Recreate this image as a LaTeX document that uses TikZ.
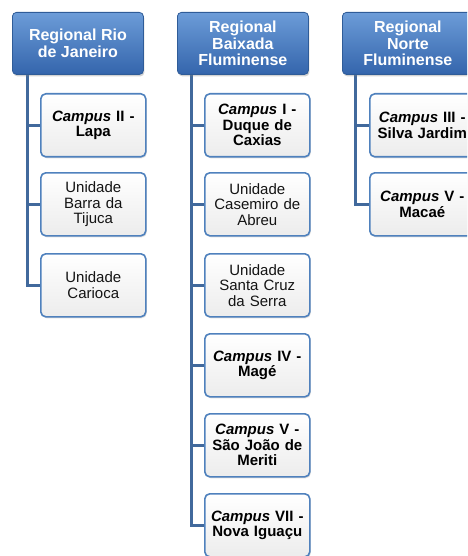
\documentclass[tikz,border=0pt]{standalone}
\usepackage{fontspec}
\setmainfont{Liberation Sans}
\usetikzlibrary{shadows,backgrounds}
\definecolor{hdtop}{HTML}{6C9CD8}
\definecolor{hdbot}{HTML}{3465AC}
\definecolor{hdline}{HTML}{2F5C98}
\definecolor{chline}{HTML}{4F81BD}
\definecolor{connc}{HTML}{41699C}
\definecolor{chbot}{HTML}{ECECEC}
\tikzset{
  hdbox/.style={rectangle, rounded corners=4pt, top color=hdtop, bottom color=hdbot,
    draw=hdline, line width=0.8pt, minimum width=131pt, minimum height=62pt,
    text=white, font=\fontsize{16}{16.5}\selectfont\bfseries, align=center, inner sep=0pt,
    anchor=north west,
    drop shadow={shadow xshift=1pt, shadow yshift=-2pt, opacity=0.35}},
  chbox/.style={rectangle, rounded corners=5pt, top color=white, bottom color=chbot,
    draw=chline, line width=1.6pt, minimum width=105pt, minimum height=63pt,
    text width=102pt, align=center, inner sep=0pt, anchor=north west,
    font=\fontsize{15}{15.5}\selectfont, text=black!92,
    drop shadow={shadow xshift=1pt, shadow yshift=-1.5pt, opacity=0.25}},
  boldtxt/.style={font=\fontsize{15}{15.5}\selectfont\bfseries, text=black},
  connline/.style={draw=connc, line width=3pt}
}
\newcommand{\camp}[1]{{\itshape Campus} #1}
\begin{document}
\begin{tikzpicture}[x=1pt,y=-1pt]
\useasboundingbox (0,0) rectangle (467,556);
\clip (0,0) rectangle (467,556);
% headers
\node[hdbox] (h1) at (12,12) {Regional Rio\\de Janeiro};
\node[hdbox] (h2) at (177,12) {Regional\\Baixada\\Fluminense};
\node[hdbox] (h3) at (342,12) {Regional\\Norte\\Fluminense};
% column 1
\node[chbox,boldtxt] (c11) at (40,93) {\camp{II -}\\Lapa};
\node[chbox] (c12) at (40,172) {Unidade\\Barra da\\Tijuca};
\node[chbox] (c13) at (40,253) {Unidade\\Carioca};
% column 2
\node[chbox,boldtxt] (c21) at (204,93) {\camp{I -}\\Duque de\\Caxias};
\node[chbox] (c22) at (204,172) {Unidade\\Casemiro de\\Abreu};
\node[chbox] (c23) at (204,253) {Unidade\\Santa Cruz\\da Serra};
\node[chbox,boldtxt] (c24) at (204,333) {\camp{IV -}\\Magé};
\node[chbox,boldtxt] (c25) at (204,413) {\camp{V -}\\São João de\\Meriti};
\node[chbox,boldtxt] (c26) at (204,493) {\camp{VII -}\\Nova Iguaçu};
% column 3
\node[chbox,boldtxt] (c31) at (369,93) {\camp{III -}\\Silva Jardim};
\node[chbox,boldtxt] (c32) at (369,172) {\camp{V -}\\Macaé};
% connectors
\begin{scope}[on background layer]
\coordinate (v1) at ([xshift=15pt]h1.south west);
\coordinate (v2) at ([xshift=14pt]h2.south west);
\coordinate (v3) at ([xshift=13pt]h3.south west);
\draw[connline] (v1) |- (c13.west);
\draw[connline] (v1 |- c11.west) -- (c11.west);
\draw[connline] (v1 |- c12.west) -- (c12.west);
\draw[connline] (v2) |- (c26.west);
\foreach \n in {c21,c22,c23,c24,c25}{
  \draw[connline] (v2 |- \n.west) -- (\n.west);
}
\draw[connline] (v3) |- (c32.west);
\draw[connline] (v3 |- c31.west) -- (c31.west);
\end{scope}
\end{tikzpicture}
\end{document}
